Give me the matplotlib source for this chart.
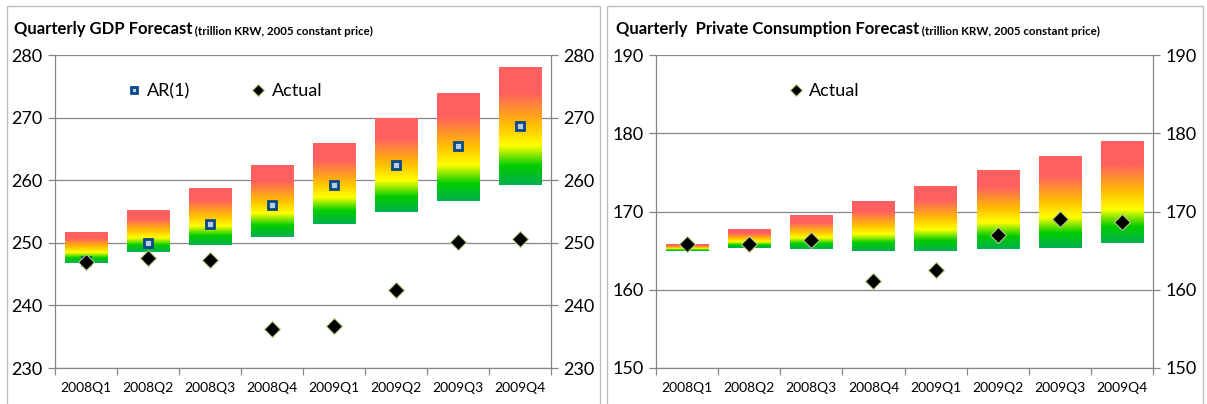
import numpy as np
import matplotlib
matplotlib.use("Agg")
import matplotlib.pyplot as plt
from matplotlib.colors import LinearSegmentedColormap
from matplotlib.patches import Rectangle

quarters = ['2008Q1', '2008Q2', '2008Q3', '2008Q4',
            '2009Q1', '2009Q2', '2009Q3', '2009Q4']

# GDP forecast band, AR(1) point forecast and actual
gdp_low = [246.8, 248.5, 249.6, 251.0, 253.0, 254.9, 256.6, 259.2]
gdp_high = [251.8, 255.3, 258.8, 262.5, 266.0, 270.0, 274.0, 278.1]
gdp_ar1 = [247.1, 250.0, 253.0, 256.1, 259.3, 262.4, 265.5, 268.6]
gdp_actual = [247.0, 247.6, 247.2, 236.2, 236.7, 242.5, 250.2, 250.6]

# private consumption forecast band and actual
pc_low = [165.0, 165.3, 165.2, 164.9, 165.0, 165.2, 165.3, 166.0]
pc_high = [165.8, 167.7, 169.5, 171.4, 173.2, 175.3, 177.1, 179.0]
pc_actual = [165.8, 165.9, 166.4, 161.1, 162.5, 167.0, 169.1, 168.7]

plt.rcParams['font.family'] = ['Lato', 'DejaVu Sans']

W, H = 1207, 404
GRID = '#868686'
band_cmap = LinearSegmentedColormap.from_list('band', [
    (0.0, '#00b050'), (0.16, '#00cc00'), (0.33, '#ffff00'),
    (0.5, '#ffc000'), (0.78, '#ff6060'), (1.0, '#ff6060')])
grad = np.linspace(0, 1, 256).reshape(-1, 1)


def draw_bands(ax, low, high):
    x = np.arange(len(quarters))
    height = np.array(high) - np.array(low)
    bars = ax.bar(x, height, bottom=low, width=0.68, color='none',
                  edgecolor='none', zorder=2)
    for b in bars:
        x0, y0 = b.get_x(), b.get_y()
        im = ax.imshow(grad, cmap=band_cmap, origin='lower', aspect='auto',
                       extent=(x0, x0 + b.get_width(), y0, y0 + b.get_height()),
                       interpolation='bilinear', zorder=2)
        im.set_clip_path(b)


def style_axis(ax, lo, hi):
    n = len(quarters)
    ax.set_xlim(-0.5, n - 0.5)
    ax.set_ylim(lo, hi)
    ax.set_yticks(np.arange(lo, hi + 1, 10))
    ax.yaxis.grid(True, color=GRID, lw=0.9)
    ax.set_axisbelow(True)
    ax.tick_params(axis='y', left=True, right=True, labelleft=True,
                   labelright=True, direction='out', length=5, color=GRID,
                   width=0.9, labelsize=13, pad=4)
    ax.set_xticks(np.arange(n))
    ax.set_xticklabels(quarters, fontsize=10)
    ax.tick_params(axis='x', which='major', length=0, pad=10)
    ax.set_xticks(np.arange(-0.5, n), minor=True)
    ax.tick_params(axis='x', which='minor', length=5, color=GRID,
                   width=0.9, direction='out')
    ax.spines['top'].set_visible(False)
    for s in ['left', 'right', 'bottom']:
        ax.spines[s].set_color(GRID)
        ax.spines[s].set_linewidth(0.9)


def actual_marks(ax, vals):
    return ax.plot(np.arange(len(quarters)), vals, ls='none', marker='D',
                   ms=8, mfc='black', mec='#b5cf8a', mew=0.8, zorder=5,
                   label='Actual')[0]


fig = plt.figure(figsize=(W / 100, H / 100), dpi=100)
bottom = 1 - 368 / H
height = (368 - 55) / H
ax1 = fig.add_axes([55 / W, bottom, (551 - 55) / W, height])
ax2 = fig.add_axes([656 / W, bottom, (1153 - 656) / W, height])

# left panel: GDP
draw_bands(ax1, gdp_low, gdp_high)
ar = ax1.plot(np.arange(len(quarters)), gdp_ar1, ls='none', marker='s', ms=5.5,
              mfc='#b8cce4', mec='#0a4785', mew=2.0, zorder=4, label='AR(1)')[0]
act1 = actual_marks(ax1, gdp_actual)
style_axis(ax1, 230, 280)
ax1.legend(handles=[ar, act1], ncol=2, frameon=False, fontsize=13,
           loc='center left', bbox_to_anchor=(0.146, 0.885), markerscale=0.8,
           handlelength=0.7, handletextpad=0.4, columnspacing=3.4,
           borderpad=0, borderaxespad=0)

# right panel: private consumption
draw_bands(ax2, pc_low, pc_high)
act2 = actual_marks(ax2, pc_actual)
style_axis(ax2, 150, 190)
ax2.legend(handles=[act2], frameon=False, fontsize=13, loc='center left',
           bbox_to_anchor=(0.268, 0.885), markerscale=0.75, handlelength=0.7,
           handletextpad=0.4, borderpad=0, borderaxespad=0)

# panel frames
for x0, x1 in [(7, 600), (607, 1203)]:
    fig.add_artist(Rectangle((x0 / W, -0.05), (x1 - x0) / W, 1.05 - 6 / H,
                             transform=fig.transFigure, fill=False,
                             ec='#bfbfbf', lw=1))

# titles
for ax, x0, main in [(ax1, 14, 'Quarterly GDP Forecast'),
                     (ax2, 616, 'Quarterly  Private Consumption Forecast')]:
    t = fig.text(x0 / W, 1 - 34 / H, main, fontsize=12, fontweight='bold',
                 va='baseline')
    ax.annotate(' (trillion KRW, 2005 constant price)', xy=(1, 0),
                xycoords=t, va='bottom', fontsize=8.3, fontweight='bold',
                annotation_clip=False)

fig.savefig('out.png', dpi=100)
